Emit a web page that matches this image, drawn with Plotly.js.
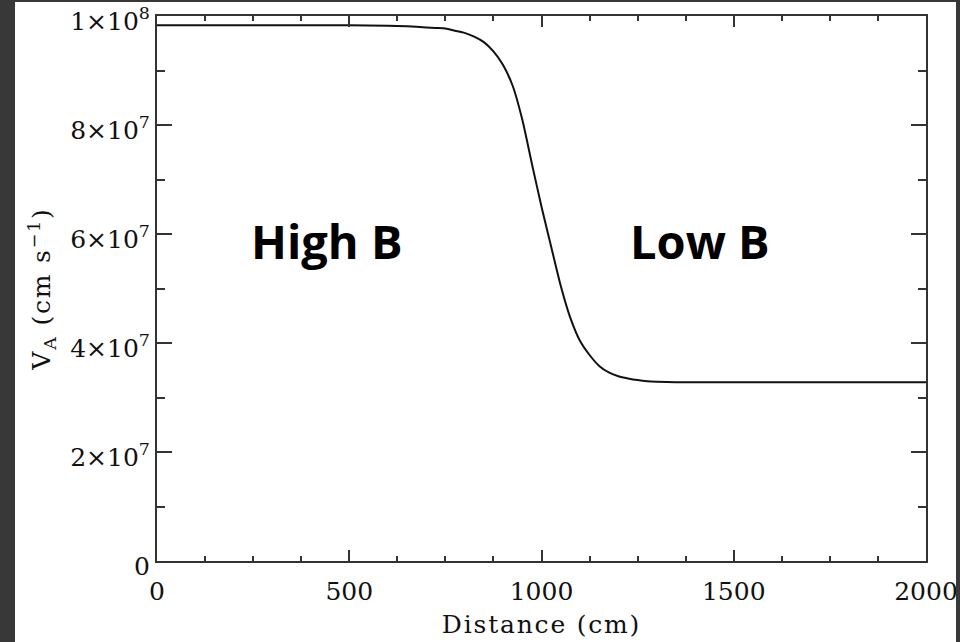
<!DOCTYPE html>
<html><head><meta charset="utf-8">
<script src="https://cdn.plot.ly/plotly-3.0.1.min.js"></script>
<style>
html,body{margin:0;padding:0;background:#fff;width:960px;height:642px;overflow:hidden}
#chart{position:absolute;left:0;top:0;width:960px;height:642px;background:#fff}
.frame{position:absolute;background:#383838;z-index:10}
.xtitle,.ytitle{letter-spacing:1.8px}
</style></head><body><div id="chart"></div>
<div class="frame" style="left:0;top:0;width:15px;height:642px"></div>
<div class="frame" style="left:0;top:0;width:960px;height:2px"></div>
<div class="frame" style="left:956px;top:0;width:4px;height:642px"></div>
<script>
// Distance (cm)
const distance = [0, 100, 200, 300, 400, 500, 600, 650, 700, 725, 750, 775, 800, 825, 850, 875, 900, 925, 950, 975, 1000, 1025, 1050, 1075, 1100, 1125, 1150, 1175, 1200, 1225, 1250, 1275, 1300, 1350, 1400, 1500, 1600, 1700, 1800, 1900, 2000];
// Alfven speed V_A (cm/s)
const vAlfven = [9.83e7, 9.83e7, 9.83e7, 9.83e7, 9.83e7, 9.83e7, 9.82e7, 9.81e7, 9.79e7, 9.78e7, 9.77e7, 9.73e7, 9.69e7, 9.62e7, 9.52e7, 9.35e7, 9.10e7, 8.72e7, 8.10e7, 7.29e7, 6.50e7, 5.77e7, 5.05e7, 4.46e7, 4.04e7, 3.78e7, 3.58e7, 3.46e7, 3.39e7, 3.35e7, 3.32e7, 3.30e7, 3.29e7, 3.28e7, 3.28e7, 3.28e7, 3.28e7, 3.28e7, 3.28e7, 3.28e7, 3.28e7];
// Tick labels
const xTickVals = [0, 500, 1000, 1500, 2000];
const yTickVals = [0, 2e7, 4e7, 6e7, 8e7, 1e8];
const yTickText = ['0', '2×10<sup>7</sup>', '4×10<sup>7</sup>', '6×10<sup>7</sup>', '8×10<sup>7</sup>', '1×10<sup>8</sup>'];
// Region labels
const regionLabels = ['High B', 'Low B'];
const regionX = [442, 1412];
const regionY = [5.88e7, 5.88e7];

const serif = {family: 'DejaVu Serif', size: 25, color: '#111'};
const axColor = '#333';

const trace = {
  x: distance, y: vAlfven, type: 'scatter', mode: 'lines',
  line: {color: '#111', width: 2, shape: 'spline', smoothing: 0.6},
  hoverinfo: 'skip'
};

const layout = {
  width: 960, height: 642,
  margin: {l: 157, r: 34, t: 16, b: 81},
  paper_bgcolor: '#fff', plot_bgcolor: '#fff',
  showlegend: false,
  xaxis: {
    range: [0, 2000], tickmode: 'array', tickvals: xTickVals, ticktext: xTickVals.map(String),
    ticks: 'inside', ticklen: 11, tickwidth: 2, tickcolor: axColor, ticklabelstandoff: 7,
    ticklabeloverflow: 'allow',
    minor: {tick0: 0, dtick: 125, ticks: 'inside', ticklen: 5, tickwidth: 2, tickcolor: axColor, showgrid: false},
    showline: true, linewidth: 2, linecolor: axColor, mirror: 'ticks',
    showgrid: false, zeroline: false, tickfont: serif,
    title: {text: 'Distance (cm)', font: serif, standoff: 10}
  },
  yaxis: {
    range: [0, 1e8], tickmode: 'array', tickvals: yTickVals, ticktext: yTickText,
    ticks: 'inside', ticklen: 15, tickwidth: 2, tickcolor: axColor,
    ticklabeloverflow: 'allow', ticklabelshift: 5,
    minor: {tick0: 0, dtick: 1e7, ticks: 'inside', ticklen: 8, tickwidth: 2, tickcolor: axColor, showgrid: false},
    showline: true, linewidth: 2, linecolor: axColor, mirror: 'ticks',
    showgrid: false, zeroline: false, tickfont: serif,
    title: {text: 'V<sub>A</sub> (cm s<sup>−1</sup>)', font: serif, standoff: 12}
  },
  annotations: regionLabels.map((t, i) => ({
    text: t, x: regionX[i], y: regionY[i], xref: 'x', yref: 'y', showarrow: false,
    font: {family: 'Open Sans', size: 47, color: '#000', weight: 700}
  }))
};

Plotly.newPlot('chart', [trace], layout, {displayModeBar: false, staticPlot: true});
</script></body></html>
